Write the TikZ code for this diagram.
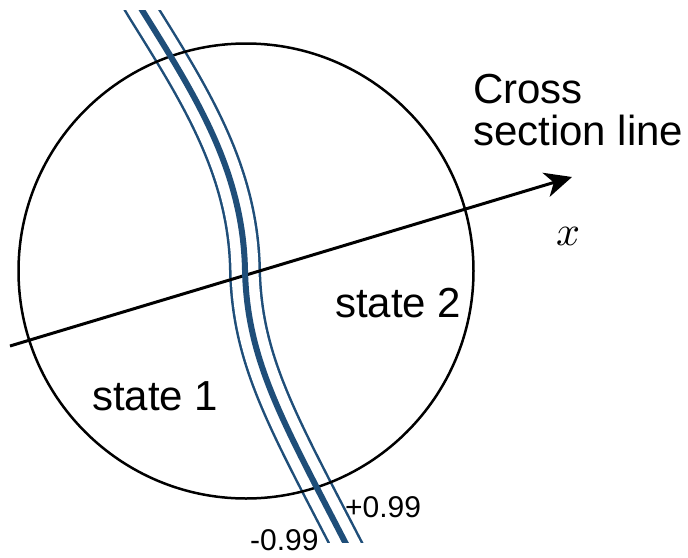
\documentclass[tikz,border=0pt]{standalone}
\usepackage{fontspec}
\setmainfont{Liberation Sans}
\usetikzlibrary{arrows.meta}
\definecolor{bandblue}{RGB}{31,78,121}
\tikzset{
  lbl/.style={font=\fontsize{42}{42}\selectfont, inner sep=0pt, anchor=base west},
  smalllbl/.style={font=\fontsize{30}{30}\selectfont, inner sep=0pt, anchor=base west},
  thinband/.style={draw=bandblue, line width=2.5pt, double=white, double distance=27pt},
  thickband/.style={draw=bandblue, line width=6pt},
}
\begin{document}
\begin{tikzpicture}[x=1pt,y=-1pt]
\useasboundingbox (0,0) rectangle (688,557);
\def\bandpath{(130,-10) -- (142,10) .. controls (195,95) and (243,170) .. (245,270) .. controls (247,360) and (282,420) .. (345,542) -- (358,567)}
\begin{scope}
  \clip (0,10) rectangle (688,542);
  \draw[thinband] \bandpath;
\end{scope}
\node[draw, circle, line width=2.5pt, minimum size=455pt, inner sep=0pt] (circ) at (246,271) {};
\coordinate (xs) at (10,346);
\coordinate (xe) at (572,177);
\draw[line width=3pt, -{Stealth[length=27pt, width=25pt, inset=8pt]}] (xs) -- (xe);
\begin{scope}
  \clip (0,10) rectangle (688,542);
  \draw[thickband] \bandpath;
\end{scope}
\node[lbl] (cross1) at (473,103) {Cross};
\node[lbl] (cross2) at (473,145) {section line};
\node[inner sep=0pt, anchor=base west] (xlab) at (556,245) {\scalebox{4.2}{$x$}};
\node[lbl] (s2) at (335,317) {state 2};
\node[lbl] (s1) at (92,410) {state 1};
\node[smalllbl] (pl) at (345,517) {+0.99};
\node[smalllbl] (mi) at (250,550) {-0.99};
\end{tikzpicture}
\end{document}
